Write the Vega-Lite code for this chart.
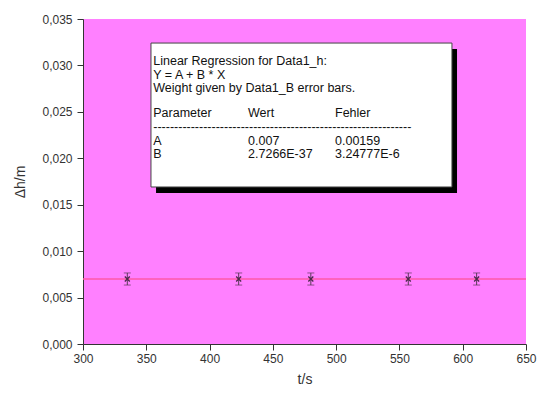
{
  "$schema": "https://vega.github.io/schema/vega-lite/v6.json",
  "width": 443,
  "height": 325,
  "autosize": "none",
  "padding": {"left": 83, "top": 19, "right": 19, "bottom": 50},
  "background": "white",
  "config": {
    "view": {"fill": "#ff80ff", "stroke": null},
    "axis": {
      "grid": false,
      "domainColor": "#333333",
      "tickColor": "#333333",
      "labelColor": "#333333",
      "titleColor": "#333333",
      "labelFont": "Liberation Sans",
      "titleFont": "Liberation Sans",
      "labelFontSize": 12,
      "titleFontSize": 14,
      "titleFontWeight": "normal"
    }
  },
  "datasets": {
    "messung": [
      {"t": 335, "h": 0.007, "err": 0.00065},
      {"t": 423, "h": 0.007, "err": 0.00065},
      {"t": 480, "h": 0.007, "err": 0.00065},
      {"t": 557, "h": 0.007, "err": 0.00065},
      {"t": 611, "h": 0.007, "err": 0.00065}
    ],
    "fit": [
      {"t": 300, "h": 0.007},
      {"t": 650, "h": 0.007}
    ],
    "shadow": [
      {"t": 357.7, "t2": 595.5, "h": 0.01626, "h2": 0.03176}
    ],
    "box": [
      {"t": 353.7, "t2": 591.5, "h": 0.01691, "h2": 0.03241}
    ],
    "labels": [
      {"t": 355.5, "h": 0.03048, "label": "Linear Regression for Data1_h:"},
      {"t": 355.5, "h": 0.02902, "label": "Y = A + B * X"},
      {"t": 355.5, "h": 0.02757, "label": "Weight given by Data1_B error bars."},
      {"t": 355.5, "h": 0.02488, "label": "Parameter"},
      {"t": 430.4, "h": 0.02488, "label": "Wert"},
      {"t": 499.1, "h": 0.02488, "label": "Fehler"},
      {"t": 355.5, "h": 0.02337, "label": "--------------------------------------------------------------"},
      {"t": 355.5, "h": 0.02186, "label": "A"},
      {"t": 430.4, "h": 0.02186, "label": "0.007"},
      {"t": 499.1, "h": 0.02186, "label": "0.00159"},
      {"t": 355.5, "h": 0.02046, "label": "B"},
      {"t": 430.4, "h": 0.02046, "label": "2.7266E-37"},
      {"t": 499.1, "h": 0.02046, "label": "3.24777E-6"}
    ]
  },
  "layer": [
    {
      "data": {"name": "fit"},
      "mark": {"type": "line", "color": "#ff58a8", "strokeWidth": 1.5},
      "encoding": {
        "x": {
          "field": "t", "type": "quantitative", "title": "t/s",
          "scale": {"domain": [300, 650], "nice": false, "zero": false},
          "axis": {
            "values": [300, 325, 350, 375, 400, 425, 450, 475, 500, 525, 550, 575, 600, 625, 650],
            "labelExpr": "datum.value % 50 === 0 ? format(datum.value, 'd') : ''",
            "tickSize": {"condition": {"test": "datum.value % 50 === 0", "value": 6}, "value": 3},
            "labelPadding": 3,
            "titlePadding": 8,
            "labelFlush": false,
            "labelOverlap": false
          }
        },
        "y": {
          "field": "h", "type": "quantitative", "title": "Δh/m",
          "scale": {"domain": [0, 0.035], "nice": false, "zero": false},
          "axis": {
            "values": [0, 0.0025, 0.005, 0.0075, 0.01, 0.0125, 0.015, 0.0175, 0.02, 0.0225, 0.025, 0.0275, 0.03, 0.0325, 0.035],
            "labelExpr": "round(datum.value * 10000) % 50 === 0 ? replace(format(datum.value, '.3f'), '.', ',') : ''",
            "tickSize": {"condition": {"test": "round(datum.value * 10000) % 50 === 0", "value": 6}, "value": 3},
            "labelPadding": 5,
            "titlePadding": 14,
            "labelFlush": false,
            "labelOverlap": false
          }
        }
      }
    },
    {
      "data": {"name": "messung"},
      "mark": {"type": "errorbar", "ticks": {"size": 7}, "color": "#5a3a5a", "thickness": 1},
      "encoding": {
        "x": {"field": "t", "type": "quantitative", "title": "t/s"},
        "y": {"field": "h", "type": "quantitative", "title": "Δh/m"},
        "yError": {"field": "err"}
      }
    },
    {
      "data": {"name": "messung"},
      "mark": {"type": "point", "shape": "M-1,-1L1,1M-1,1L1,-1", "size": 25, "filled": false, "stroke": "#4a2a4a", "strokeWidth": 1.3, "opacity": 1},
      "encoding": {
        "x": {"field": "t", "type": "quantitative", "title": "t/s"},
        "y": {"field": "h", "type": "quantitative", "title": "Δh/m"}
      }
    },
    {
      "data": {"name": "shadow"},
      "mark": {"type": "rect", "color": "#000000"},
      "encoding": {
        "x": {"field": "t", "type": "quantitative", "title": "t/s"},
        "x2": {"field": "t2"},
        "y": {"field": "h", "type": "quantitative", "title": "Δh/m"},
        "y2": {"field": "h2"}
      }
    },
    {
      "data": {"name": "box"},
      "mark": {"type": "rect", "fill": "#ffffff", "stroke": "#444444", "strokeWidth": 1},
      "encoding": {
        "x": {"field": "t", "type": "quantitative", "title": "t/s"},
        "x2": {"field": "t2"},
        "y": {"field": "h", "type": "quantitative", "title": "Δh/m"},
        "y2": {"field": "h2"}
      }
    },
    {
      "data": {"name": "labels"},
      "mark": {"type": "text", "align": "left", "baseline": "middle", "font": "Liberation Sans", "fontSize": 12.5, "color": "#111111"},
      "encoding": {
        "x": {"field": "t", "type": "quantitative", "title": "t/s"},
        "y": {"field": "h", "type": "quantitative", "title": "Δh/m"},
        "text": {"field": "label"}
      }
    }
  ]
}
